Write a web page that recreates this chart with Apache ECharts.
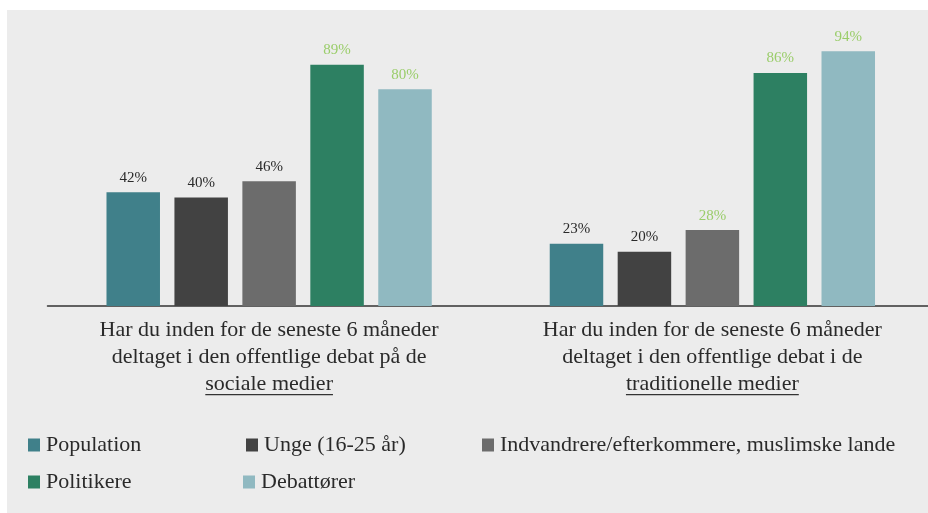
<!DOCTYPE html>
<html>
<head>
<meta charset="utf-8">
<script src="https://cdn.jsdelivr.net/npm/echarts@6/dist/echarts.min.js"></script>
<style>
    html, body { margin: 0; padding: 0; background: #fff; overflow: hidden; }
    #chart {
        position: absolute;
        left: 7px;
        top: 10px;
        width: 927px;
        height: 503px;
        background: #ececec;
    }
</style>
</head>
<body>
<div id="chart"></div>
<script>
// spørgsmål (kategorier), sidste linje understreges
let questionLines = [
    ['Har du inden for de seneste 6 måneder', 'deltaget i den offentlige debat på de', 'sociale medier'],
    ['Har du inden for de seneste 6 måneder', 'deltaget i den offentlige debat i de', 'traditionelle medier'],
];
let seriesNames = ['Population', 'Unge (16-25 år)', 'Indvandrere/efterkommere, muslimske lande', 'Politikere', 'Debattører'];

// andel i procent
let population = [42, 23];
let unge = [40, 20];
let indvandrere = [46, 28];
let politikere = [89, 86];
let debattoerer = [80, 94];

let barColors = ['#40808a', '#424242', '#6c6c6c', '#2d8062', '#90b9c1'];
// hvilke værdi-labels står med grønt i originalen
let greenLabel = [
    [false, false],
    [false, false],
    [false, true],
    [true, true],
    [true, true],
];

const FONT = '"Liberation Serif", "DejaVu Serif", serif';
const TEXT = '#2a2a2a';
const GREEN = '#9acd6a';

let values = [population, unge, indvandrere, politikere, debattoerer];
let categories = questionLines.map(l => l.join('\n'));

let series = [];
values.forEach((data, i) => {
    series.push({
        type: 'bar',
        name: seriesNames[i],
        barWidth: 53.5,
        barGap: '27%',
        itemStyle: { color: barColors[i] },
        data: data.map((v, j) => ({
            value: v,
            label: { color: greenLabel[i][j] ? GREEN : TEXT }
        })),
        label: {
            show: true,
            position: 'top',
            distance: 7,
            formatter: '{c}%',
            fontFamily: FONT,
            fontSize: 15,
        },
    });
});

// legend: en komponent pr. serie, placeret i to rækker
let legendPos = [
    { left: 21, top: 424 },
    { left: 239, top: 424 },
    { left: 475, top: 424 },
    { left: 21, top: 461 },
    { left: 236, top: 461 },
];
let legend = seriesNames.map((name, i) => ({
    data: [name],
    left: legendPos[i].left,
    top: legendPos[i].top,
    padding: 0,
    icon: 'rect',
    itemWidth: 12,
    itemHeight: 13,
    selectedMode: false,
    textStyle: {
        fontFamily: FONT,
        fontSize: 22,
        color: TEXT,
        padding: [0, 0, 0, 1],
    },
}));

let option = {
    animation: false,
    color: barColors,
    legend: legend,
    grid: {
        left: 40.5,
        right: 0,
        top: 25,
        bottom: 207,
    },
    xAxis: {
        type: 'category',
        data: categories,
        axisTick: { show: false },
        axisLine: {
            lineStyle: { color: '#333', width: 1.5 }
        },
        axisLabel: {
            interval: 0,
            margin: 10.5,
            fontFamily: FONT,
            fontSize: 22,
            lineHeight: 27,
            color: TEXT,
        },
    },
    yAxis: {
        type: 'value',
        min: 0,
        max: 100,
        show: false,
        splitLine: { show: false },
    },
    series: series,
};

let chart = echarts.init(document.getElementById('chart'));
chart.setOption(option);

// understregning af sidste linje i hvert spørgsmål
let ctx = document.createElement('canvas').getContext('2d');
ctx.font = '22px ' + FONT;
let baseY = chart.convertToPixel({ yAxisIndex: 0 }, 0);
let underlines = questionLines.map((lines, i) => {
    let cx = chart.convertToPixel({ xAxisIndex: 0 }, i);
    let w = ctx.measureText(lines[2]).width;
    let y = baseY + 10.5 + 27 * 2 + 13.5 + 10.7;
    return {
        type: 'line',
        shape: { x1: cx - w / 2, y1: y, x2: cx + w / 2, y2: y },
        style: { stroke: '#333', lineWidth: 1.3 },
        silent: true,
    };
});
chart.setOption({ graphic: underlines });

window.addEventListener('resize', function () {
    chart.resize();
});
</script>
</body>
</html>
